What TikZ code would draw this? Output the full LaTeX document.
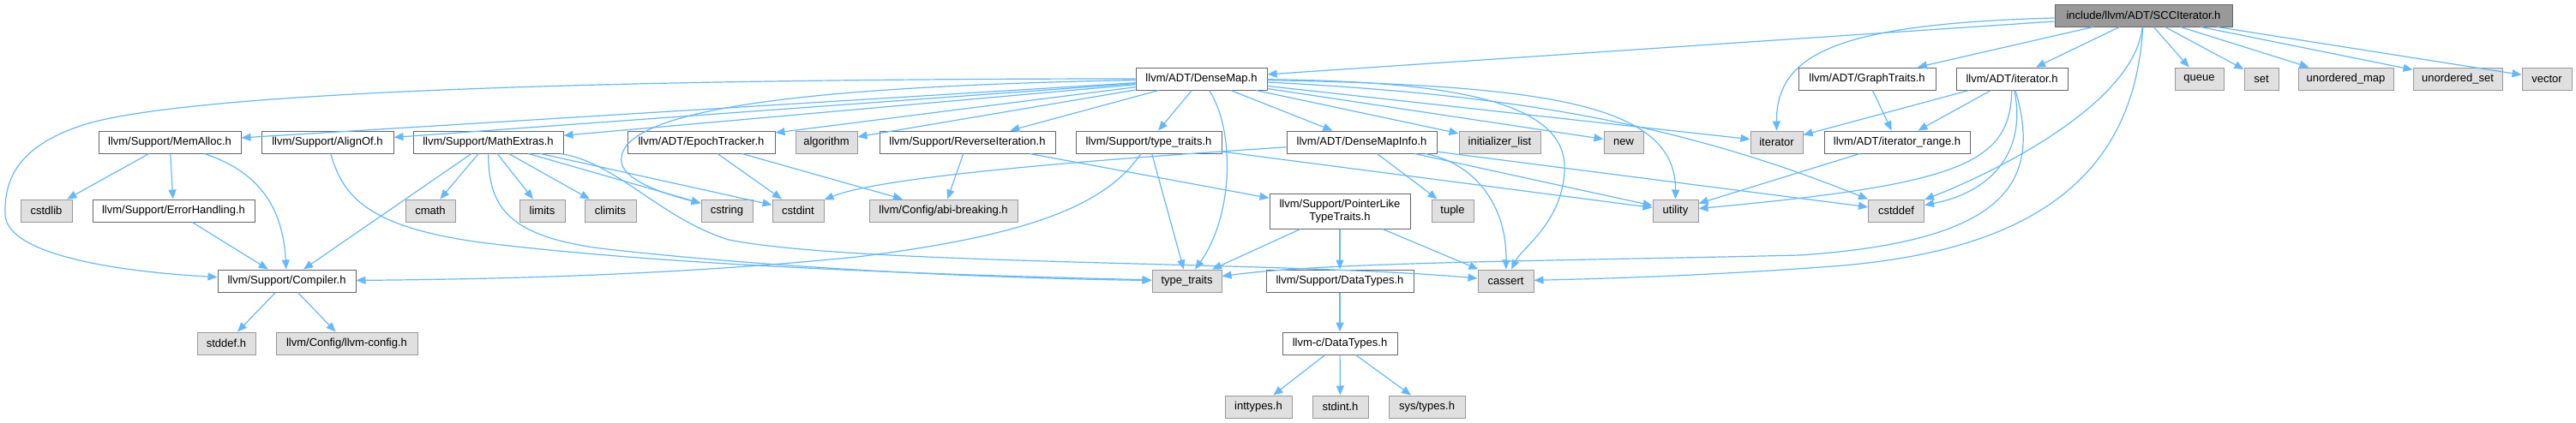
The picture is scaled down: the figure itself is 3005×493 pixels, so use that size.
\documentclass[tikz,border=0pt]{standalone}
\usepackage{fontspec}
\setmainfont{Liberation Sans}
\usetikzlibrary{arrows.meta}
\definecolor{edgeblue}{HTML}{63B8FF}
\definecolor{bordergrey}{HTML}{666666}
\definecolor{extfill}{HTML}{E0E0E0}
\definecolor{extborder}{HTML}{999999}
\definecolor{topfill}{HTML}{999999}
\begin{document}
\begin{tikzpicture}[x=1pt,y=-1pt,
 base/.style={rectangle, minimum height=26pt, inner sep=0pt, font=\fontsize{13}{15}\selectfont, line width=1pt},
 wnode/.style={base, fill=white, draw=bordergrey},
 gnode/.style={base, fill=extfill, draw=extborder},
 topnode/.style={base, fill=topfill, draw=bordergrey},
 dep/.style={draw=edgeblue, line width=1.2pt, -{Triangle[length=11pt,width=9pt]}},
]
\useasboundingbox (0,0) rectangle (3005,493);

% row 0
\node[topnode, minimum width=207pt] (scc) at (2500.5,18) {include/llvm/ADT/SCCIterator.h};
% row 1
\node[wnode, minimum width=153pt] (densemap) at (1401.5,92) {llvm/ADT/DenseMap.h};
\node[wnode, minimum width=160pt] (graphtraits) at (2178,92) {llvm/ADT/GraphTraits.h};
\node[wnode, minimum width=130pt] (iteratorh) at (2347,92) {llvm/ADT/iterator.h};
\node[gnode, minimum width=57pt] (queue) at (2565.5,92) {queue};
\node[gnode, minimum width=40pt] (set) at (2638,92) {set};
\node[gnode, minimum width=111pt] (umap) at (2736.5,92) {unordered\_map};
\node[gnode, minimum width=104pt] (uset) at (2867,92) {unordered\_set};
\node[gnode, minimum width=58pt] (vector) at (2971,92) {vector};
% row 2
\node[wnode, minimum width=166pt] (memalloc) at (198,166) {llvm/Support/MemAlloc.h};
\node[wnode, minimum width=154pt] (alignof) at (382,166) {llvm/Support/AlignOf.h};
\node[wnode, minimum width=175pt] (mathextras) at (569.5,166) {llvm/Support/MathExtras.h};
\node[wnode, minimum width=172pt] (epoch) at (818,166) {llvm/ADT/EpochTracker.h};
\node[gnode, minimum width=72pt] (algorithm) at (964,166) {algorithm};
\node[wnode, minimum width=205pt] (reverseit) at (1128.5,166) {llvm/Support/ReverseIteration.h};
\node[wnode, minimum width=170pt] (typetraitsh) at (1340,166) {llvm/Support/type\_traits.h};
\node[wnode, minimum width=175pt] (densemapinfo) at (1588.5,166) {llvm/ADT/DenseMapInfo.h};
\node[gnode, minimum width=95pt] (initlist) at (1749.5,166) {initializer\_list};
\node[gnode, minimum width=46pt] (newh) at (1894,166) {new};
\node[gnode, minimum width=61pt] (iterator) at (2072.5,166) {iterator};
\node[wnode, minimum width=170pt] (iterrange) at (2213,166) {llvm/ADT/iterator\_range.h};
% row 3
\node[gnode, minimum width=60pt] (cstdlib) at (54,246) {cstdlib};
\node[wnode, minimum width=189pt] (errorh) at (202.5,246) {llvm/Support/ErrorHandling.h};
\node[gnode, minimum width=58pt] (cmath) at (502,246) {cmath};
\node[gnode, minimum width=53pt] (limits) at (632.5,246) {limits};
\node[gnode, minimum width=60pt] (climits) at (712,246) {climits};
\node[gnode, minimum width=60pt] (cstring) at (848,246) {cstring};
\node[gnode, minimum width=60pt] (cstdint) at (931,246) {cstdint};
\node[gnode, minimum width=173pt] (abibreaking) at (1100.5,246) {llvm/Config/abi-breaking.h};
\node[wnode, minimum width=164pt, minimum height=41pt, align=center] (pointerlike) at (1563,246.5) {llvm/Support/PointerLike\\TypeTraits.h};
\node[gnode, minimum width=49pt] (tuple) at (1694.5,246) {tuple};
\node[gnode, minimum width=53pt] (utility) at (1954.5,246) {utility};
\node[gnode, minimum width=65pt] (cstddef) at (2212,246) {cstddef};
% row 4
\node[wnode, minimum width=161pt] (compiler) at (334.5,328) {llvm/Support/Compiler.h};
\node[gnode, minimum width=81pt] (stdtypetraits) at (1384.5,328) {type\_traits};
\node[wnode, minimum width=172pt] (datatypes) at (1563,328) {llvm/Support/DataTypes.h};
\node[gnode, minimum width=65pt] (cassert) at (1756.5,328) {cassert};
% row 5
\node[gnode, minimum width=68pt] (stddef) at (264,401) {stddef.h};
\node[gnode, minimum width=165pt] (llvmconfig) at (404.5,401) {llvm/Config/llvm-config.h};
\node[wnode, minimum width=134pt] (cdatatypes) at (1563,401) {llvm-c/DataTypes.h};
% row 6
\node[gnode, minimum width=78pt] (inttypes) at (1468,475) {inttypes.h};
\node[gnode, minimum width=65pt] (stdint) at (1563.5,475) {stdint.h};
\node[gnode, minimum width=89pt] (systypes) at (1664.5,475) {sys/types.h};

% SCCIterator.h
\draw[dep] (scc) -- (densemap);
\draw[dep] (scc) -- (graphtraits);
\draw[dep] (scc) -- (iteratorh);
\draw[dep] (scc) -- (queue);
\draw[dep] (scc) -- (set);
\draw[dep] (scc) -- (umap);
\draw[dep] (scc) -- (uset);
\draw[dep] (scc) -- (vector);
\draw[dep] (scc) .. controls (2150,28) and (2072,60) .. (iterator);
\draw[dep] (scc) .. controls (2490,120) and (2330,200) .. (cstddef);
\draw[dep] (scc) .. controls (2490,200) and (2380,290) .. (2150,310) .. controls (2000,322) and (1850,326) .. (cassert);

% iterator.h
\draw[dep] (iteratorh) -- (iterator);
\draw[dep] (iteratorh) -- (iterrange);
\draw[dep] (iteratorh) .. controls (2345,190) and (2290,215) .. (utility);
\draw[dep] (iteratorh) .. controls (2365,180) and (2320,225) .. (cstddef);
\draw[dep] (iteratorh) .. controls (2385,220) and (2330,282) .. (2100,298) .. controls (1800,305) and (1550,306) .. (stdtypetraits);

% GraphTraits.h, iterator_range.h
\draw[dep] (graphtraits) -- (iterrange);
\draw[dep] (iterrange) -- (utility);

% DenseMap.h
\draw[dep] (densemap) -- (memalloc);
\draw[dep] (densemap) -- (alignof);
\draw[dep] (densemap) -- (mathextras);
\draw[dep] (densemap) -- (epoch);
\draw[dep] (densemap) -- (algorithm);
\draw[dep] (densemap) -- (reverseit);
\draw[dep] (densemap) -- (typetraitsh);
\draw[dep] (densemap) -- (densemapinfo);
\draw[dep] (densemap) -- (initlist);
\draw[dep] (densemap) -- (newh);
\draw[dep] (densemap) -- (iterator);
\draw[dep] (densemap) .. controls (1800,100) and (1955,120) .. (utility);
\draw[dep] (densemap) .. controls (1750,110) and (1950,140) .. (cstddef);
\draw[dep] (densemap) .. controls (1700,95) and (1830,120) .. (1825,200) .. controls (1822,260) and (1775,290) .. (cassert);
\draw[dep] (densemap) .. controls (1000,100) and (715,120) .. (725,190) .. controls (730,215) and (790,230) .. (cstring);
\draw[dep] (densemap) .. controls (1440,150) and (1440,250) .. (stdtypetraits);
\draw[dep] (densemap) .. controls (900,92) and (250,100) .. (100,145) .. controls (20,170) and (5,210) .. (6,250) .. controls (7,300) and (150,318) .. (compiler);

% MemAlloc.h, ErrorHandling.h
\draw[dep] (memalloc) -- (cstdlib);
\draw[dep] (memalloc) -- (errorh);
\draw[dep] (memalloc) .. controls (300,200) and (330,240) .. (compiler);
\draw[dep] (errorh) -- (compiler);

% AlignOf.h
\draw[dep] (alignof) .. controls (400,230) and (430,265) .. (560,283) .. controls (800,313) and (1150,322) .. (stdtypetraits);

% MathExtras.h
\draw[dep] (mathextras) -- (compiler);
\draw[dep] (mathextras) -- (cmath);
\draw[dep] (mathextras) -- (limits);
\draw[dep] (mathextras) -- (climits);
\draw[dep] (mathextras) -- (cstring);
\draw[dep] (mathextras) -- (cstdint);
\draw[dep] (mathextras) .. controls (570,240) and (590,275) .. (700,290) .. controls (900,313) and (1150,325) .. (stdtypetraits);
\draw[dep] (mathextras) .. controls (720,190) and (770,255) .. (850,280) .. controls (1000,310) and (1500,305) .. (cassert);

% EpochTracker.h, ReverseIteration.h
\draw[dep] (epoch) -- (cstdint);
\draw[dep] (epoch) -- (abibreaking);
\draw[dep] (reverseit) -- (abibreaking);
\draw[dep] (reverseit) -- (pointerlike);

% type_traits.h
\draw[dep] (typetraitsh) .. controls (1290,240) and (1200,275) .. (1000,300) .. controls (800,320) and (600,326) .. (compiler);
\draw[dep] (typetraitsh) -- (stdtypetraits);
\draw[dep] (typetraitsh) -- (utility);

% DenseMapInfo.h
\draw[dep] (densemapinfo) .. controls (1300,185) and (1030,205) .. (cstdint);
\draw[dep] (densemapinfo) -- (tuple);
\draw[dep] (densemapinfo) .. controls (1720,190) and (1758,240) .. (cassert);
\draw[dep] (densemapinfo) -- (utility);
\draw[dep] (densemapinfo) -- (cstddef);

% PointerLikeTypeTraits.h, DataTypes
\draw[dep] (pointerlike) -- (stdtypetraits);
\draw[dep] (pointerlike) -- (datatypes);
\draw[dep] (pointerlike) -- (cassert);
\draw[dep] (datatypes) -- (cdatatypes);
\draw[dep] (cdatatypes) -- (inttypes);
\draw[dep] (cdatatypes) -- (stdint);
\draw[dep] (cdatatypes) -- (systypes);

% Compiler.h
\draw[dep] (compiler) -- (stddef);
\draw[dep] (compiler) -- (llvmconfig);
\end{tikzpicture}
\end{document}
